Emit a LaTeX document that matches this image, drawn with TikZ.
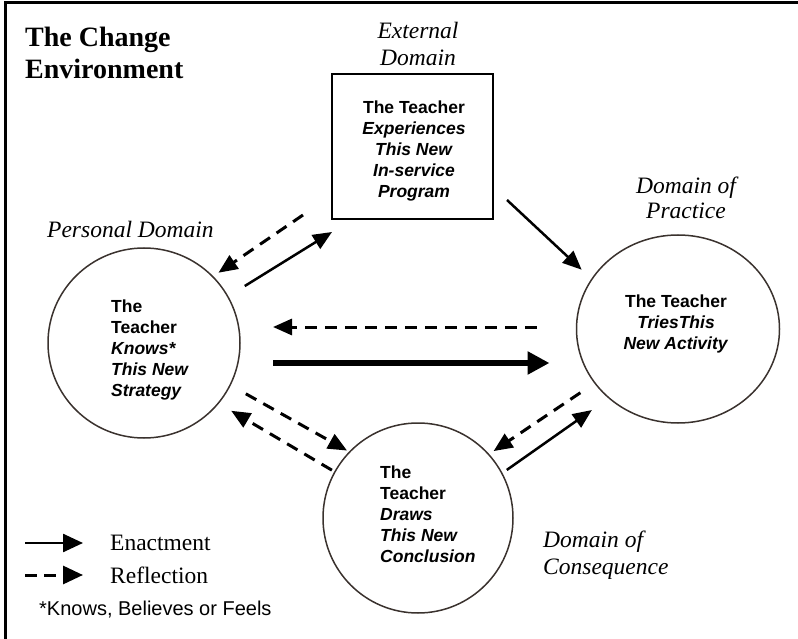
\documentclass[tikz,border=0pt]{standalone}
\usepackage{fontspec}
\setmainfont{Liberation Serif}
\setsansfont{Liberation Sans}
\usetikzlibrary{arrows.meta,shapes.geometric}
\definecolor{rim}{RGB}{58,50,46}
\tikzset{sphere/.style={ellipse, draw=rim, line width=1.5pt,
         inner sep=0pt, outer sep=0pt},
         enact/.style={-{Triangle[length=19pt,width=16pt]}, line width=2.5pt},
         reflect/.style={enact, line width=3pt, dash pattern=on 12pt off 8pt},
         tag/.style={inner sep=0pt, font=\itshape\fontsize{23.5}{27}\selectfont},
         inside/.style={inner sep=0pt, font=\sffamily\bfseries\fontsize{17.5}{21}\selectfont}}

\begin{document}
\begin{tikzpicture}[x=1pt,y=-1pt]
    \useasboundingbox (0,0) rectangle (798,639);
    \draw[line width=3pt] (5,639) -- (5,3) -- (798,3);

    \node[anchor=north west, align=left, inner sep=0pt,
          font=\bfseries\fontsize{28}{32}\selectfont] (title) at (25,27) {The Change\\Environment};

    % the four domains
    \node[draw, line width=1.6pt, outer sep=0pt,
          minimum width=161pt, minimum height=145pt] (ext) at (412.5,146.5) {};
    \node[sphere, minimum width=192pt, minimum height=190pt] (pers) at (144,343) {};
    \node[sphere, minimum width=203pt, minimum height=188pt] (prac) at (678,329) {};
    \node[sphere, minimum width=190pt, minimum height=190pt] (cons) at (418,518) {};

    \node[inside, anchor=north, align=center] (exttxt) at (414,101)
        {The Teacher\\\textit{Experiences}\\\textit{This New}\\\textit{In-service}\\\textit{Program}};
    \node[inside, anchor=north west, align=left] (perstxt) at (111,300)
        {The\\Teacher\\\textit{Knows*}\\\textit{This New}\\\textit{Strategy}};
    \node[inside, anchor=north, align=center] (practxt) at (676,295)
        {The Teacher\\\textit{TriesThis}\\\textit{New Activity}};
    \node[inside, anchor=north west, align=left] (constxt) at (380,466)
        {The\\Teacher\\\textit{Draws}\\\textit{This New}\\\textit{Conclusion}};

    \node[tag, anchor=north, align=center] (extlab) at (418,22) {External\\Domain};
    \node[tag, anchor=base west] (perslab) at (47,237) {Personal Domain};
    \node[tag, anchor=north, align=center, font=\itshape\fontsize{23.5}{25}\selectfont]
        (praclab) at (686,177) {Domain of\\Practice};
    \node[tag, anchor=north west, align=left] (conslab) at (543,531) {Domain of\\Consequence};

    % arrows between the domains
    \draw[enact, shorten <=20pt] (pers.29) -- ([shift={(0,13)}]ext.south west);
    \draw[reflect, shorten >=7pt] ([shift={(-29,-4)}]ext.south west) -- (pers.44);
    \draw[enact, shorten >=14pt] ([shift={(14,-19)}]ext.south east) -- (prac.150);
    \draw[reflect] ([shift={(-40,-2)}]prac.west) -- ([shift={(33,-16)}]pers.east);
    \draw[enact, line width=6pt, -{Triangle[length=22pt,width=22pt]}]
        ([shift={(33,20)}]pers.east) -- ([shift={(-27,34)}]prac.west);
    \draw[reflect, shorten <=18pt, shorten >=3pt] (pers.334) -- (cons.136);
    \draw[reflect, shorten <=3.5pt, shorten >=15pt] (cons.151) -- (pers.321);
    \draw[reflect, shorten <=17.5pt, shorten >=6pt] (prac.213) -- (cons.42);
    \draw[enact, shorten <=6pt, shorten >=21pt] (cons.28) -- (prac.225);

    % legend
    \node[anchor=base west, inner sep=0pt, font=\fontsize{23.5}{27}\selectfont]
        (lgenact) at (110,550) {Enactment};
    \node[anchor=base west, inner sep=0pt, font=\fontsize{23.5}{27}\selectfont]
        (lgrefl) at (110,583) {Reflection};
    \draw[enact, -{Triangle[length=20pt,width=18pt]}]
        ([shift={(-85,-7)}]lgenact.base west) -- ([shift={(-27,-7)}]lgenact.base west);
    \draw[reflect, dash pattern=on 12pt off 7pt, -{Triangle[length=20pt,width=18pt]}]
        ([shift={(-85,-8)}]lgrefl.base west) -- ([shift={(-27,-8)}]lgrefl.base west);
    \node[anchor=base west, inner sep=0pt, font=\sffamily\fontsize{20}{24}\selectfont]
        (note) at (39,615) {*Knows, Believes or Feels};
\end{tikzpicture}
\end{document}
